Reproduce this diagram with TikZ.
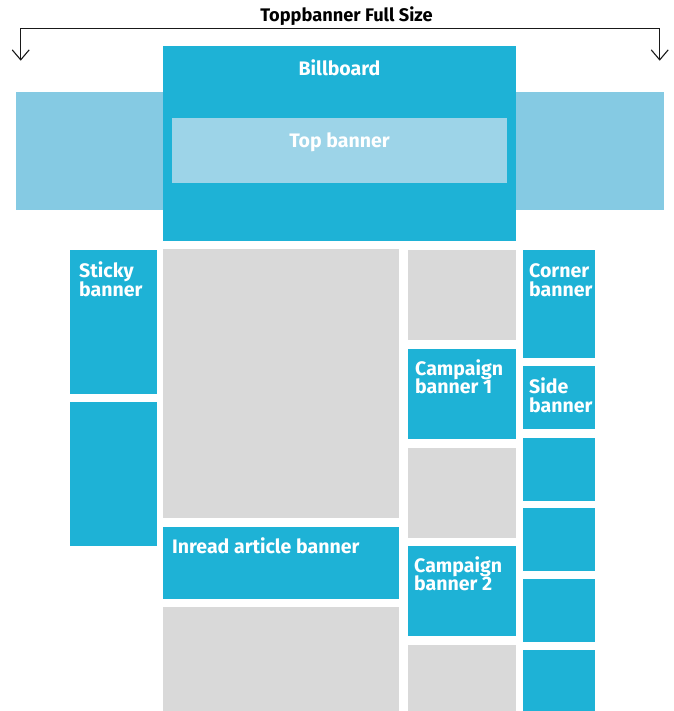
\documentclass[tikz,border=0pt]{standalone}
\usepackage{fontspec}
\setmainfont{Fira Sans}
\usetikzlibrary{arrows.meta}
\definecolor{bb}{HTML}{1EB2D6}
\definecolor{lb}{HTML}{85CAE3}
\definecolor{tb}{HTML}{9DD4E8}
\definecolor{gr}{HTML}{D9D9D9}
\begin{document}
\begin{tikzpicture}[x=1bp,y=-1bp,
 box/.style={rectangle, draw=none, inner sep=0, outer sep=0, anchor=north west},
 ad/.style={box, fill=bb},
 ph/.style={box, fill=gr},
 lbl/.style={text=white, font=\fontsize{19.6}{19}\selectfont\bfseries, inner sep=0, align=left},
 ttl/.style={text=black, font=\fontsize{18.3}{18}\selectfont\bfseries, inner sep=0},
 dim/.style={line width=1.1bp, draw=black!90, {Straight Barb[length=10bp,width=17bp]}-{Straight Barb[length=10bp,width=17bp]}},
]
\useasboundingbox (0,0) rectangle (674,711);
\fill[white] (0,0) rectangle (674,711);
% title and dimension bracket
\node[ttl, anchor=base] (title) at (346.5,21.7) {Toppbanner Full Size};
\coordinate (la) at (20.7,60.7);
\coordinate (ra) at (659.7,60.7);
\draw[dim] (la) -- (20.7,28.3) -- (659.7,28.3) -- (ra);
% top area
\node[box, fill=lb, minimum width=648bp, minimum height=118bp] (band) at (16,92) {};
\node[ad, minimum width=353bp, minimum height=195bp] (billboard) at (163,46) {};
\node[box, fill=tb, minimum width=335bp, minimum height=65bp] (topb) at (172,118) {};
\node[lbl, anchor=base] (billboardT) at (339.5,75.3) {Billboard};
\node[lbl, anchor=base] (topbT) at (339.5,147.3) {Top banner};
% left column
\node[ad, minimum width=87bp, minimum height=144bp] (sticky) at (70,250) {};
\node[ad, minimum width=87bp, minimum height=144bp] (sticky2) at (70,402) {};
% main column
\node[ph, minimum width=236bp, minimum height=269bp] (main1) at (163,249) {};
\node[ad, minimum width=236bp, minimum height=72bp] (inread) at (163,527) {};
\node[ph, minimum width=236bp, minimum height=104bp] (main2) at (163,607) {};
% right column
\node[ph, minimum width=108bp, minimum height=90bp] (r1) at (408,250) {};
\node[ad, minimum width=108bp, minimum height=90bp] (camp1) at (408,349) {};
\node[ph, minimum width=108bp, minimum height=90bp] (r3) at (408,448) {};
\node[ad, minimum width=108bp, minimum height=90bp] (camp2) at (408,546) {};
\node[ph, minimum width=108bp, minimum height=66bp] (r5) at (408,645) {};
% far right column
\node[ad, minimum width=72bp, minimum height=108bp] (corner) at (523,250) {};
\node[ad, minimum width=72bp, minimum height=63bp] (side) at (523,366) {};
\node[ad, minimum width=72bp, minimum height=63bp] (f3) at (523,438) {};
\node[ad, minimum width=72bp, minimum height=63bp] (f4) at (523,508) {};
\node[ad, minimum width=72bp, minimum height=63bp] (f5) at (523,579) {};
\node[ad, minimum width=72bp, minimum height=61bp] (f6) at (523,650) {};
% labels
\node[lbl, anchor=base west] (stickyT) at (79,277.7) {Sticky};
\node[lbl, anchor=base west] (stickyT2) at (79,296.5) {banner};
\node[lbl, anchor=base west] (cornerT) at (529,277.7) {Corner};
\node[lbl, anchor=base west] (cornerT2) at (529,296.5) {banner};
\node[lbl, anchor=base west] (sideT) at (529,393.3) {Side};
\node[lbl, anchor=base west] (sideT2) at (529,412.3) {banner};
\node[lbl, anchor=base west] (camp1T) at (415,375) {Campaign};
\node[lbl, anchor=base west] (camp1T2) at (415,393.3) {banner 1};
\node[lbl, anchor=base west] (camp2T) at (414,572) {Campaign};
\node[lbl, anchor=base west] (camp2T2) at (414,590.7) {banner 2};
\node[lbl, anchor=base west] (inreadT) at (172,553.3) {Inread article banner};
\end{tikzpicture}
\end{document}
